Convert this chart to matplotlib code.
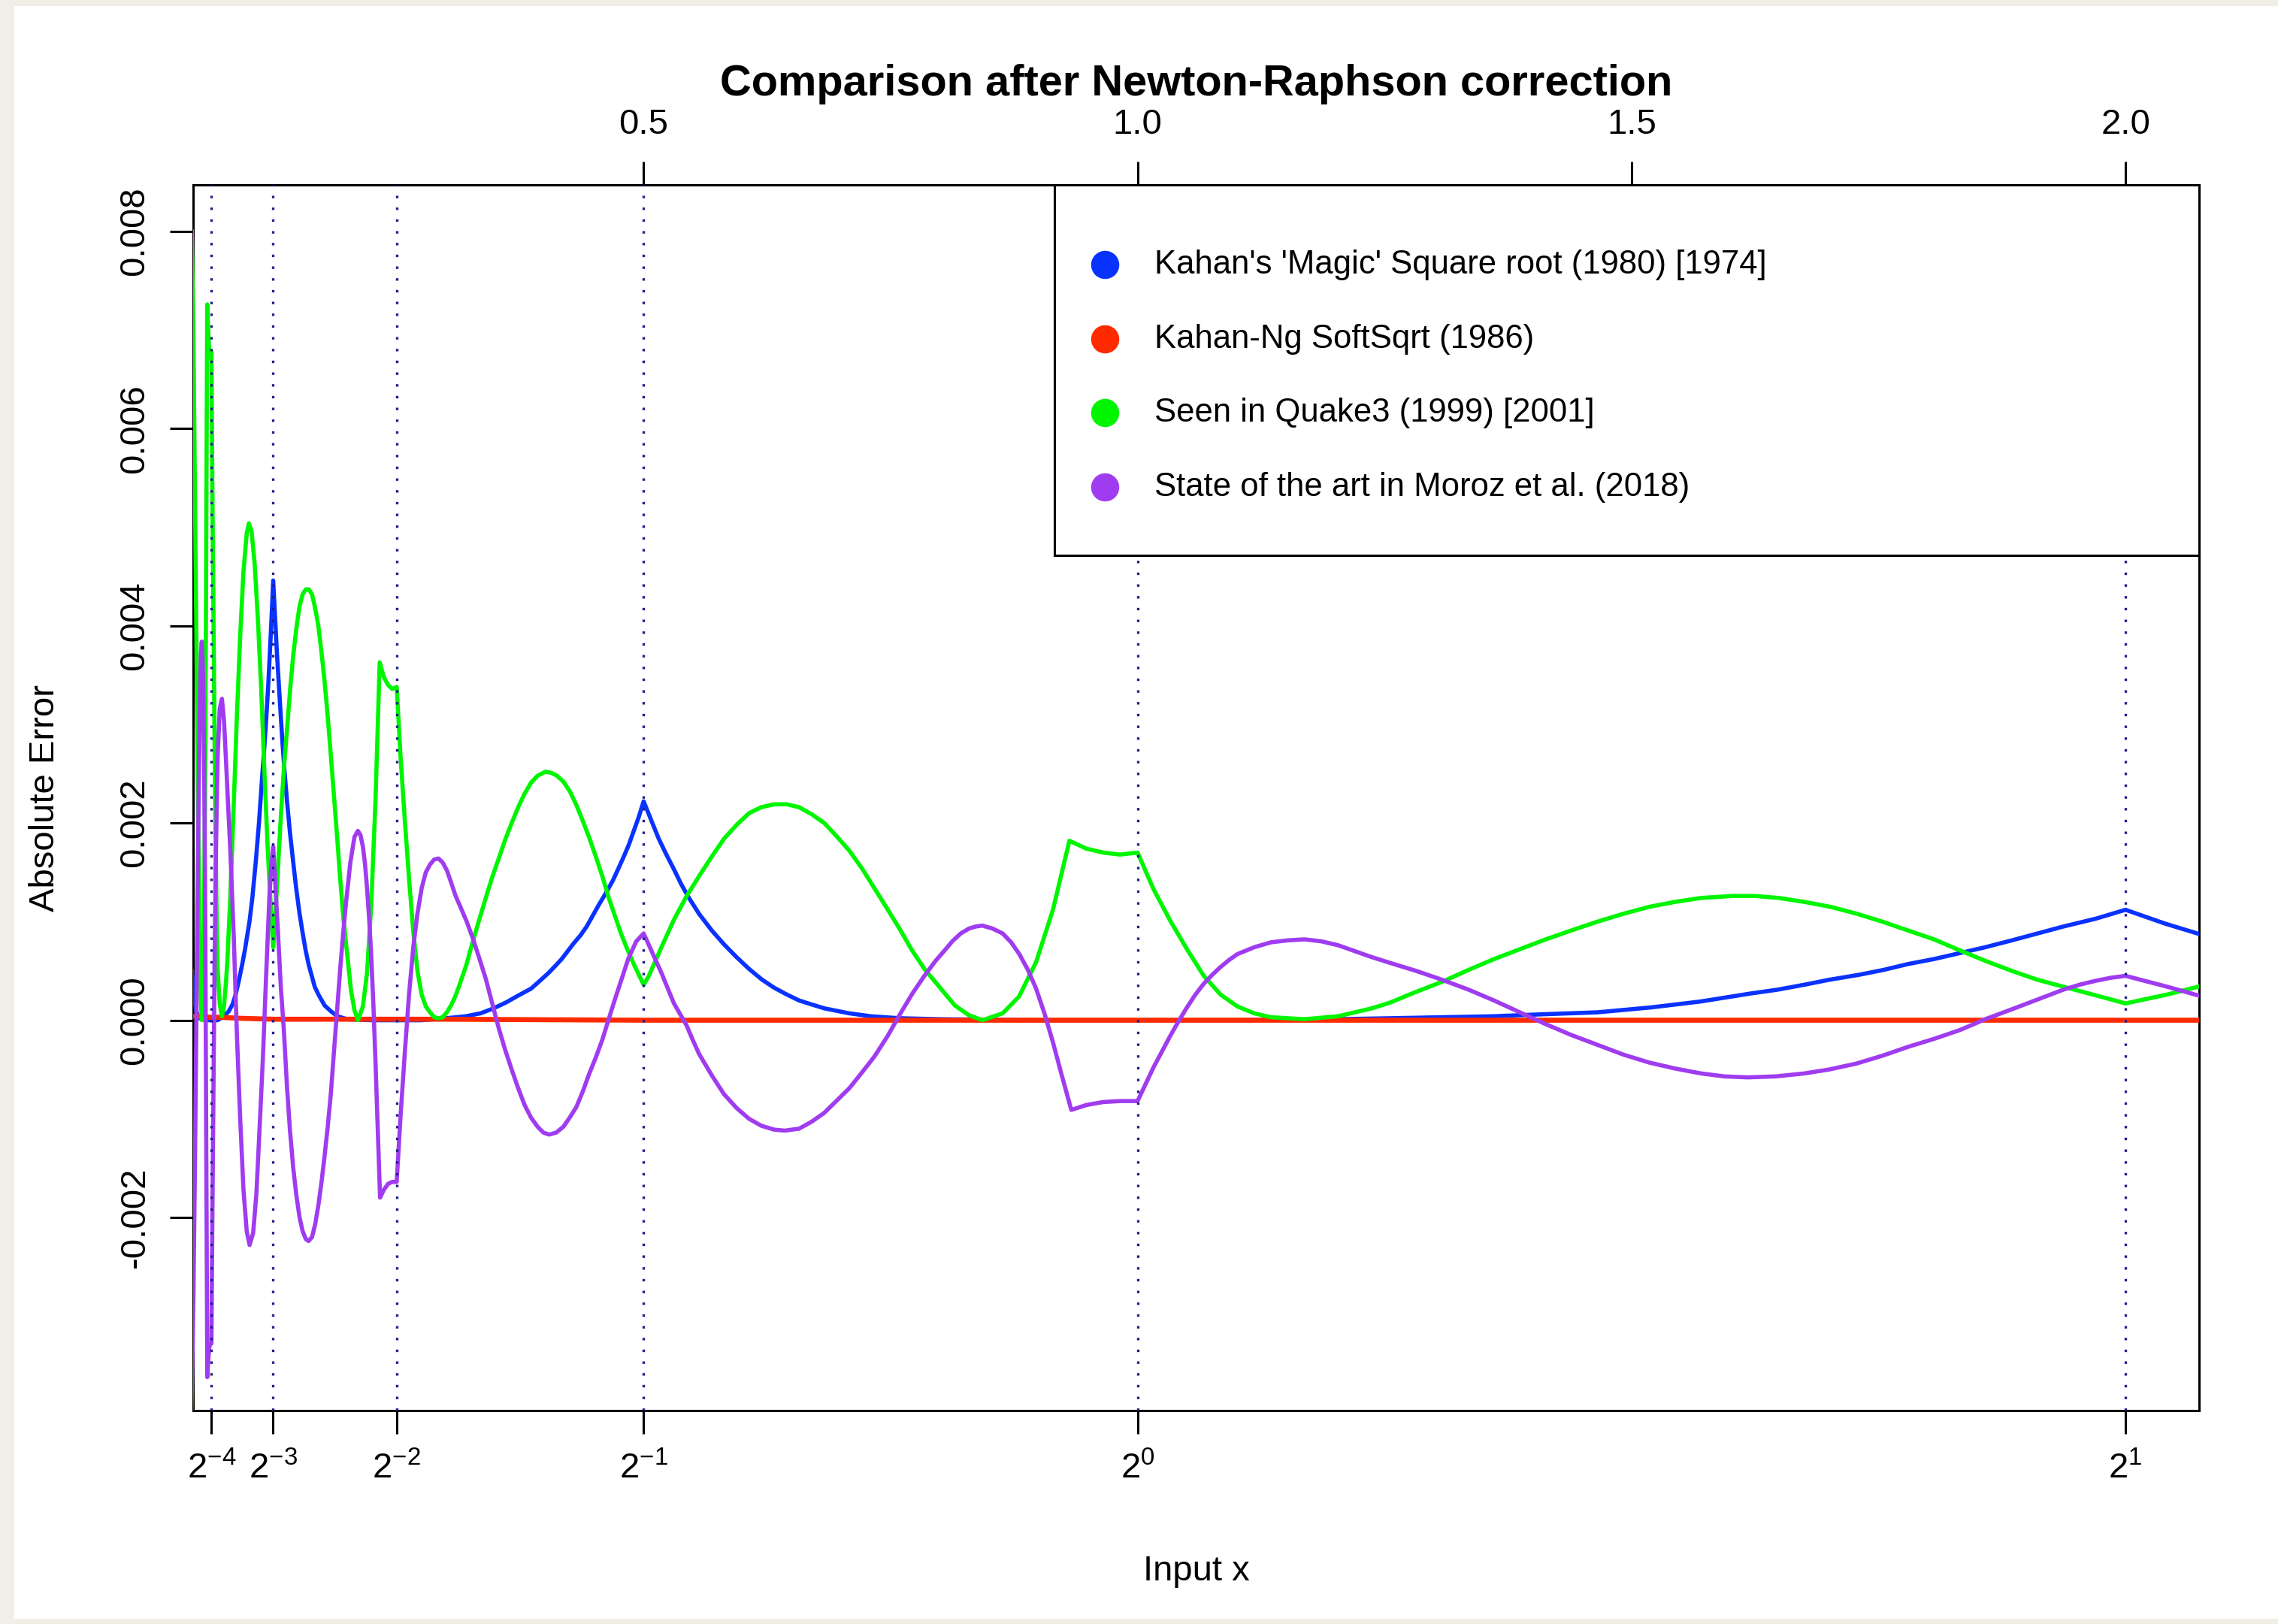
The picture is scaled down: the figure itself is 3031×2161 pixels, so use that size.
import matplotlib.pyplot as plt
from matplotlib.patches import Rectangle

plt.rcParams['font.family'] = ['Liberation Sans', 'DejaVu Sans']
plt.rcParams['mathtext.fontset'] = 'custom'
plt.rcParams['mathtext.rm'] = 'Liberation Sans'
plt.rcParams['mathtext.it'] = 'Liberation Sans:italic'
plt.rcParams['mathtext.default'] = 'regular'

# (input x, absolute error)
blue_pts = [(0.0427, 0.00050), (0.0443, 0.00030), (0.0460, 0.00016), (0.0475, 0.00008), (0.0500, 0.00002),
            (0.0560, 0.0), (0.0650, 0.0), (0.0688, 0.0), (0.0750, 0.00004), (0.0800, 0.00009),
            (0.0838, 0.00016), (0.0870, 0.00026), (0.0902, 0.00040), (0.0935, 0.00056), (0.0965, 0.00072),
            (0.1010, 0.00100), (0.1040, 0.00125), (0.1073, 0.00160), (0.1106, 0.00200), (0.1137, 0.00245),
            (0.1173, 0.00295), (0.1200, 0.00340), (0.1225, 0.00390), (0.1250, 0.00446), (0.1288, 0.00372),
            (0.1327, 0.00308), (0.1345, 0.00280), (0.1365, 0.00252), (0.1390, 0.00222), (0.1420, 0.00190),
            (0.1453, 0.00160), (0.1485, 0.00132), (0.1517, 0.00108), (0.1549, 0.00088), (0.1580, 0.00070),
            (0.1610, 0.00056), (0.1643, 0.00044), (0.1670, 0.00034), (0.1708, 0.00026), (0.1770, 0.00015),
            (0.1835, 0.00009), (0.1900, 0.00004), (0.2000, 0.00001), (0.2250, 0.0), (0.2500, 0.0),
            (0.2750, 0.0), (0.3000, 0.00002), (0.3200, 0.00004), (0.3350, 0.00007), (0.3480, 0.00012),
            (0.3607, 0.00018), (0.3730, 0.00025), (0.3860, 0.00032), (0.3950, 0.00040), (0.4038, 0.00048),
            (0.4105, 0.00055), (0.4170, 0.00062), (0.4292, 0.00078), (0.4360, 0.00086), (0.4423, 0.00095),
            (0.4546, 0.00117), (0.4618, 0.00129), (0.4690, 0.00142), (0.4745, 0.00154), (0.4799, 0.00166),
            (0.4850, 0.00178), (0.4900, 0.00192), (0.4950, 0.00206), (0.5000, 0.00222), (0.5080, 0.00202),
            (0.5153, 0.00184), (0.5230, 0.00168), (0.5307, 0.00153), (0.5380, 0.00138), (0.5459, 0.00124),
            (0.5560, 0.00108), (0.5690, 0.00091), (0.5813, 0.00077), (0.5940, 0.00064), (0.6067, 0.00052),
            (0.6200, 0.00041), (0.6320, 0.00033), (0.6450, 0.00026), (0.6574, 0.00020), (0.6700, 0.00016),
            (0.6830, 0.00012), (0.7080, 0.00007), (0.7300, 0.00004), (0.7590, 0.00002), (0.8000, 0.00001),
            (0.9000, 0.0), (1.0000, 0.0), (1.1000, 0.0), (1.2000, 0.00001), (1.2560, 0.00002),
            (1.3600, 0.00004), (1.4100, 0.00006), (1.4656, 0.00008), (1.5200, 0.00013), (1.5450, 0.00016),
            (1.5700, 0.00019), (1.5950, 0.00023), (1.6200, 0.00027), (1.6480, 0.00031), (1.6750, 0.00036),
            (1.7000, 0.00041), (1.7300, 0.00046), (1.7550, 0.00051), (1.7800, 0.00057), (1.8060, 0.00062),
            (1.8320, 0.00068), (1.8580, 0.00074), (1.8850, 0.00081), (1.9110, 0.00088), (1.9370, 0.00095),
            (1.9700, 0.00103), (2.0000, 0.00112), (2.0200, 0.00105), (2.0400, 0.00098), (2.0760, 0.00087)]

red_pts = [(0.044, 0.00004), (0.050, 0.00004), (0.060, 0.00003), (0.070, 0.00003), (0.090, 0.00002),
           (0.125, 0.00001), (0.200, 0.00001), (0.300, 0.00001), (0.500, 0.0), (0.750, 0.0),
           (1.000, 0.0), (1.500, 0.0), (2.076, 0.0)]

green_pts = [(0.0426, 0.00800), (0.0443, 0.00690), (0.0458, 0.00536), (0.0474, 0.00372), (0.0490, 0.00208),
             (0.0500, 0.00132), (0.0509, 0.00060), (0.0518, 0.00020), (0.0527, 0.0), (0.0540, 0.00028),
             (0.0550, 0.00096), (0.0561, 0.00236), (0.0571, 0.00448), (0.0582, 0.00726), (0.0593, 0.00696),
             (0.0603, 0.00680), (0.0614, 0.00672), (0.0625, 0.00678), (0.0635, 0.00532), (0.0646, 0.00404),
             (0.0656, 0.00288), (0.0667, 0.00180), (0.0678, 0.00100), (0.0688, 0.00052), (0.0709, 0.00016),
             (0.0731, 0.00004), (0.0752, 0.00014), (0.0773, 0.00040), (0.0785, 0.00058), (0.0818, 0.00130),
             (0.0851, 0.00220), (0.0883, 0.00310), (0.0916, 0.00390), (0.0949, 0.00455), (0.0982, 0.00494),
             (0.1004, 0.00504), (0.1031, 0.00496), (0.1063, 0.00462), (0.1096, 0.00405), (0.1129, 0.00335),
             (0.1162, 0.00250), (0.1194, 0.00175), (0.1227, 0.00112), (0.1250, 0.00074), (0.1263, 0.00090),
             (0.1295, 0.00148), (0.1327, 0.00206), (0.1358, 0.00255), (0.1390, 0.00295), (0.1421, 0.00335),
             (0.1453, 0.00370), (0.1485, 0.00398), (0.1517, 0.00420), (0.1548, 0.00432), (0.1580, 0.00437),
             (0.1611, 0.00437), (0.1643, 0.00432), (0.1675, 0.00418), (0.1707, 0.00400), (0.1738, 0.00374),
             (0.1770, 0.00344), (0.1802, 0.00308), (0.1834, 0.00268), (0.1865, 0.00228), (0.1897, 0.00186),
             (0.1928, 0.00144), (0.1960, 0.00104), (0.2000, 0.00066), (0.2038, 0.00030), (0.2073, 0.00010),
             (0.2108, 0.0), (0.2158, 0.00014), (0.2200, 0.00048), (0.2243, 0.00118), (0.2286, 0.00224),
             (0.2328, 0.00363), (0.2370, 0.00348), (0.2413, 0.00340), (0.2455, 0.00336), (0.2500, 0.00338),
             (0.2540, 0.00266), (0.2583, 0.00202), (0.2625, 0.00144), (0.2668, 0.00090), (0.2710, 0.00050),
             (0.2753, 0.00026), (0.2795, 0.00014), (0.2838, 0.00008), (0.2880, 0.00003), (0.2923, 0.00002),
             (0.2965, 0.00003), (0.3008, 0.00008), (0.3050, 0.00015), (0.3093, 0.00024), (0.3140, 0.00037),
             (0.3205, 0.00056), (0.3271, 0.00080), (0.3336, 0.00102), (0.3402, 0.00124), (0.3467, 0.00145),
             (0.3533, 0.00164), (0.3598, 0.00183), (0.3664, 0.00200), (0.3730, 0.00216), (0.3796, 0.00230),
             (0.3861, 0.00241), (0.3927, 0.00248), (0.4005, 0.00252), (0.4064, 0.00251), (0.4122, 0.00248),
             (0.4188, 0.00242), (0.4254, 0.00232), (0.4320, 0.00218), (0.4385, 0.00202), (0.4450, 0.00185),
             (0.4516, 0.00166), (0.4582, 0.00146), (0.4647, 0.00124), (0.4712, 0.00105), (0.4778, 0.00086),
             (0.4843, 0.00070), (0.4909, 0.00055), (0.5000, 0.00036), (0.5053, 0.00045), (0.5180, 0.00074),
             (0.5307, 0.00102), (0.5430, 0.00125), (0.5560, 0.00146), (0.5690, 0.00166), (0.5813, 0.00184),
             (0.5940, 0.00198), (0.6067, 0.00210), (0.6190, 0.00216), (0.6320, 0.00219), (0.6450, 0.00219),
             (0.6574, 0.00216), (0.6700, 0.00209), (0.6828, 0.00200), (0.6950, 0.00187), (0.7082, 0.00172),
             (0.7210, 0.00154), (0.7335, 0.00134), (0.7460, 0.00114), (0.7589, 0.00093), (0.7710, 0.00072),
             (0.7842, 0.00052), (0.8000, 0.00033), (0.8150, 0.00015), (0.8294, 0.00005), (0.8430, 0.0),
             (0.8634, 0.00007), (0.8800, 0.00024), (0.8973, 0.00059), (0.9143, 0.00112), (0.9310, 0.00182),
             (0.9482, 0.00174), (0.9652, 0.00170), (0.9822, 0.00168), (1.0000, 0.00170), (1.0161, 0.00133),
             (1.0330, 0.00101), (1.0500, 0.00072), (1.0670, 0.00045), (1.0840, 0.00026), (1.1010, 0.00014),
             (1.1180, 0.00007), (1.1350, 0.00003), (1.1690, 0.00001), (1.2030, 0.00004), (1.2370, 0.00012),
             (1.2560, 0.00018), (1.2800, 0.00028), (1.3083, 0.00039), (1.3350, 0.00051), (1.3608, 0.00062),
             (1.3870, 0.00072), (1.4131, 0.00082), (1.4390, 0.00091), (1.4656, 0.00100), (1.4920, 0.00108),
             (1.5180, 0.00115), (1.5440, 0.00120), (1.5704, 0.00124), (1.6018, 0.00126), (1.6250, 0.00126),
             (1.6490, 0.00124), (1.6750, 0.00120), (1.7014, 0.00115), (1.7280, 0.00108), (1.7538, 0.00100),
             (1.7800, 0.00091), (1.8062, 0.00082), (1.8320, 0.00071), (1.8586, 0.00060), (1.8850, 0.00050),
             (1.9110, 0.00041), (1.9370, 0.00034), (1.9634, 0.00027), (1.9820, 0.00022), (2.0000, 0.00017),
             (2.0420, 0.00026), (2.0776, 0.00035)]

purple_pts = [(0.0410, -0.00440), (0.0427, -0.00376), (0.0443, -0.00276), (0.0458, -0.00148), (0.0475, 0.00028),
              (0.0490, 0.00180), (0.0497, 0.00240), (0.0508, 0.00320), (0.0518, 0.00372), (0.0527, 0.00384),
              (0.0540, 0.00352), (0.0550, 0.00268), (0.0561, 0.00128), (0.0571, -0.00088), (0.0583, -0.00362),
              (0.0593, -0.00344), (0.0603, -0.00332), (0.0614, -0.00328), (0.0625, -0.00328), (0.0635, -0.00192),
              (0.0646, -0.00064), (0.0656, 0.00052), (0.0667, 0.00148), (0.0678, 0.00216), (0.0688, 0.00268),
              (0.0709, 0.00316), (0.0731, 0.00326), (0.0752, 0.00304), (0.0773, 0.00262), (0.0785, 0.00236),
              (0.0818, 0.00168), (0.0851, 0.00084), (0.0883, -0.00016), (0.0916, -0.00100), (0.0949, -0.00172),
              (0.0982, -0.00214), (0.1011, -0.00228), (0.1047, -0.00216), (0.1080, -0.00176), (0.1113, -0.00108),
              (0.1145, -0.00040), (0.1178, 0.00044), (0.1211, 0.00124), (0.1231, 0.00158), (0.1250, 0.00176),
              (0.1295, 0.00096), (0.1327, 0.00034), (0.1358, -0.00010), (0.1390, -0.00068), (0.1420, -0.00112),
              (0.1453, -0.00150), (0.1485, -0.00178), (0.1517, -0.00200), (0.1548, -0.00214), (0.1580, -0.00222),
              (0.1608, -0.00224), (0.1643, -0.00220), (0.1675, -0.00207), (0.1707, -0.00188), (0.1738, -0.00165),
              (0.1770, -0.00138), (0.1802, -0.00108), (0.1834, -0.00074), (0.1865, -0.00032), (0.1900, 0.00014),
              (0.1930, 0.00054), (0.1960, 0.00090), (0.1988, 0.00120), (0.2031, 0.00160), (0.2073, 0.00186),
              (0.2107, 0.00192), (0.2133, 0.00188), (0.2158, 0.00176), (0.2180, 0.00158), (0.2200, 0.00134),
              (0.2222, 0.00102), (0.2243, 0.00064), (0.2265, 0.00014), (0.2286, -0.00044), (0.2332, -0.00180),
              (0.2370, -0.00172), (0.2413, -0.00166), (0.2455, -0.00164), (0.2500, -0.00164), (0.2540, -0.00096),
              (0.2583, -0.00032), (0.2625, 0.00026), (0.2668, 0.00074), (0.2710, 0.00108), (0.2753, 0.00134),
              (0.2795, 0.00150), (0.2838, 0.00158), (0.2880, 0.00163), (0.2923, 0.00164), (0.2965, 0.00160),
              (0.3008, 0.00152), (0.3050, 0.00140), (0.3093, 0.00127), (0.3140, 0.00116), (0.3205, 0.00101),
              (0.3271, 0.00083), (0.3336, 0.00063), (0.3402, 0.00042), (0.3467, 0.00017), (0.3533, -0.00008),
              (0.3598, -0.00030), (0.3664, -0.00050), (0.3730, -0.00069), (0.3795, -0.00086), (0.3861, -0.00099),
              (0.3926, -0.00108), (0.3985, -0.00114), (0.4044, -0.00116), (0.4115, -0.00114), (0.4188, -0.00108),
              (0.4250, -0.00099), (0.4319, -0.00088), (0.4385, -0.00072), (0.4450, -0.00054), (0.4515, -0.00038),
              (0.4581, -0.00020), (0.4646, 0.00001), (0.4712, 0.00022), (0.4778, 0.00042), (0.4843, 0.00062),
              (0.4925, 0.00080), (0.5000, 0.00088), (0.5090, 0.00068), (0.5180, 0.00048), (0.5245, 0.00032),
              (0.5307, 0.00017), (0.5370, 0.00006), (0.5433, -0.00005), (0.5497, -0.00020), (0.5560, -0.00034),
              (0.5690, -0.00056), (0.5813, -0.00075), (0.5940, -0.00089), (0.6067, -0.00100), (0.6190, -0.00107),
              (0.6320, -0.00111), (0.6430, -0.00112), (0.6574, -0.00110), (0.6700, -0.00103), (0.6828, -0.00094),
              (0.6950, -0.00082), (0.7082, -0.00069), (0.7210, -0.00053), (0.7335, -0.00037), (0.7470, -0.00016),
              (0.7600, 0.00007), (0.7720, 0.00027), (0.7842, 0.00045), (0.7953, 0.00060), (0.8040, 0.00070),
              (0.8124, 0.00080), (0.8210, 0.00088), (0.8294, 0.00093), (0.8360, 0.00095), (0.8428, 0.00096),
              (0.8530, 0.00093), (0.8634, 0.00088), (0.8720, 0.00079), (0.8803, 0.00067), (0.8890, 0.00051),
              (0.8973, 0.00032), (0.9060, 0.00006), (0.9142, -0.00022), (0.9230, -0.00055), (0.9329, -0.00091),
              (0.9482, -0.00086), (0.9652, -0.00083), (0.9822, -0.00082), (1.0000, -0.00082), (1.0080, -0.00065),
              (1.0160, -0.00048), (1.0245, -0.00032), (1.0330, -0.00016), (1.0415, -0.00001), (1.0500, 0.00013),
              (1.0585, 0.00026), (1.0670, 0.00037), (1.0755, 0.00046), (1.0840, 0.00054), (1.0925, 0.00061),
              (1.1010, 0.00067), (1.1180, 0.00074), (1.1350, 0.00079), (1.1520, 0.00081), (1.1690, 0.00082),
              (1.1860, 0.00080), (1.2030, 0.00076), (1.2200, 0.00070), (1.2370, 0.00064), (1.2560, 0.00058),
              (1.2820, 0.00050), (1.3083, 0.00041), (1.3350, 0.00031), (1.3608, 0.00020), (1.3870, 0.00008),
              (1.4131, -0.00004), (1.4390, -0.00015), (1.4656, -0.00025), (1.4920, -0.00035), (1.5180, -0.00043),
              (1.5440, -0.00049), (1.5704, -0.00054), (1.5940, -0.00057), (1.6175, -0.00058), (1.6460, -0.00057),
              (1.6750, -0.00054), (1.7000, -0.00050), (1.7276, -0.00044), (1.7540, -0.00036), (1.7800, -0.00027),
              (1.8060, -0.00019), (1.8324, -0.00010), (1.8580, 0.00001), (1.8848, 0.00011), (1.9110, 0.00021),
              (1.9372, 0.00031), (1.9535, 0.00036), (1.9700, 0.00040), (1.9850, 0.00043), (2.0000, 0.00045),
              (2.0420, 0.00034), (2.0776, 0.00024)]

series_labels = ["Kahan's 'Magic' Square root (1980) [1974]", "Kahan-Ng SoftSqrt (1986)",
                 "Seen in Quake3 (1999) [2001]", "State of the art in Moroz et al. (2018)"]
series_colors = ['#0a32ff', '#ff2a00', '#00f500', '#a03cf0']

pow2_ticks = [0.0625, 0.125, 0.25, 0.5, 1.0, 2.0]
pow2_labels = ['$2^{-4}$', '$2^{-3}$', '$2^{-2}$', '$2^{-1}$', '$2^{0}$', '$2^{1}$']
top_ticks = [0.5, 1.0, 1.5, 2.0]
top_labels = ['0.5', '1.0', '1.5', '2.0']
y_ticks = [-0.002, 0.0, 0.002, 0.004, 0.006, 0.008]
y_labels = ['-0.002', '0.000', '0.002', '0.004', '0.006', '0.008']

fig = plt.figure(figsize=(15.155, 10.805), dpi=200)
fig.patch.set_facecolor('#f1eee8')
fig.add_artist(Rectangle((0.0063, 0.0032), 0.9937, 0.9931, transform=fig.transFigure,
                         facecolor='white', edgecolor='none', zorder=-10))

ax = fig.add_axes([0.0848, 0.1314, 0.8806, 0.7547])

for pts, col, lw in zip([blue_pts, red_pts, green_pts, purple_pts], series_colors, [2.0, 2.4, 2.0, 2.0]):
    xs, ys = zip(*sorted(pts))
    ax.plot(xs, ys, color=col, lw=lw, solid_joinstyle='round', zorder=3)

for v in pow2_ticks:
    ax.axvline(v, color='#1f1f8c', lw=1.2, linestyle=(0, (1, 3.7)), zorder=5)

ax.set_xlim(0.0440, 2.0746)
ax.set_ylim(-0.00396, 0.008472)

ax.set_xticks(pow2_ticks)
ax.set_xticklabels(pow2_labels)
ax.set_yticks(y_ticks)
ax.set_yticklabels(y_labels, rotation=90, va='center')
ax.tick_params(axis='x', length=11, width=1.1, pad=9, labelsize=17)
ax.tick_params(axis='y', length=11, width=1.1, pad=9, labelsize=17)
for s in ax.spines.values():
    s.set_linewidth(1.1)

secax = ax.secondary_xaxis('top')
secax.set_xticks(top_ticks)
secax.set_xticklabels(top_labels)
secax.tick_params(length=11, width=1.1, pad=10, labelsize=17)
secax.spines['top'].set_linewidth(1.1)

ax.set_xlabel('Input x', fontsize=17, va='baseline')
ax.xaxis.set_label_coords(0.5, -0.1386)
ax.set_ylabel('Absolute Error', fontsize=17, va='baseline')
ax.yaxis.set_label_coords(-0.0694, 0.5)
fig.text(0.5251, 0.9412, 'Comparison after Newton-Raphson correction',
         ha='center', va='baseline', fontsize=20.8, fontweight='bold')

# legend box, drawn by hand to match the R layout
ax.add_patch(Rectangle((0.4294, 0.6979), 0.5706, 0.3021, transform=ax.transAxes,
                       facecolor='white', edgecolor='black', lw=1.1, zorder=10, clip_on=False))
rows_y = [0.9348, 0.8743, 0.8140, 0.7535]
for yy, lab, col in zip(rows_y, series_labels, series_colors):
    ax.plot([0.4543], [yy], 'o', ms=12.5, color=col, transform=ax.transAxes, zorder=11, clip_on=False)
    ax.text(0.4791, yy, lab, transform=ax.transAxes, va='center', fontsize=15.7, zorder=11)

fig.savefig('out.png', dpi=200, facecolor=fig.get_facecolor())
